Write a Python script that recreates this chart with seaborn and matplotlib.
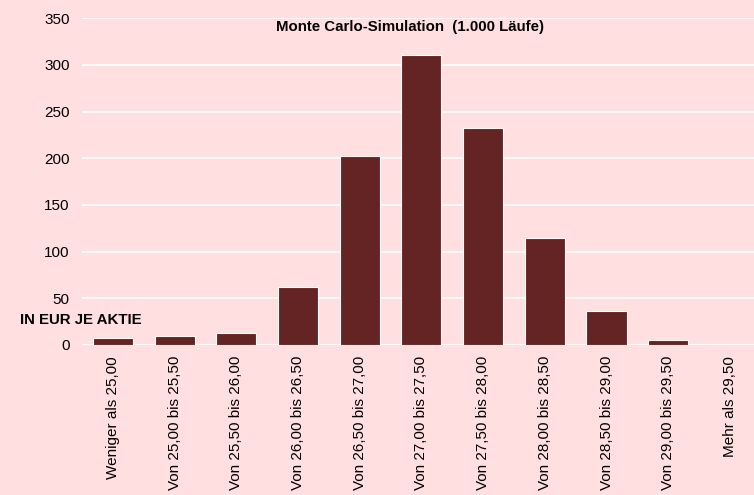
import matplotlib
matplotlib.use("Agg")
import matplotlib.pyplot as plt
import seaborn as sns
import pandas as pd

# Monte Carlo simulation, 1.000 runs, share price bins
categories = ['Weniger als 25,00', 'Von 25,00 bis 25,50', 'Von 25,50 bis 26,00',
              'Von 26,00 bis 26,50', 'Von 26,50 bis 27,00', 'Von 27,00 bis 27,50',
              'Von 27,50 bis 28,00', 'Von 28,00 bis 28,50', 'Von 28,50 bis 29,00',
              'Von 29,00 bis 29,50', 'Mehr als 29,50']
counts = [7, 10, 13, 62, 203, 311, 233, 115, 36, 5, 0]
y_ticks = [0, 50, 100, 150, 200, 250, 300, 350]

BG = '#FFDFDF'
BAR = '#632423'

sns.set_theme(style='white')
plt.rcParams['font.family'] = ['Liberation Sans', 'DejaVu Sans']

df = pd.DataFrame({'bin': categories, 'count': counts})

fig = plt.figure(figsize=(7.54, 4.95), dpi=100, facecolor=BG)
ax = fig.add_axes([82 / 754, 150 / 495, 672 / 754, 326.7 / 495])
ax.set_facecolor(BG)

sns.barplot(data=df, x='bin', y='count', color=BAR, width=0.65,
            edgecolor='white', linewidth=0.8, saturation=1, ax=ax, zorder=3)

ax.set_ylim(0, 350)
ax.set_xlim(-0.5, 10.39)
ax.set_yticks(y_ticks)
ax.yaxis.grid(True, color='white', linewidth=1.2, zorder=0)
ax.set_axisbelow(True)
for s in ax.spines.values():
    s.set_visible(False)
ax.axhline(0, color='white', linewidth=1.5, zorder=2)

ax.set_xlabel('')
ax.set_ylabel('')
ax.tick_params(axis='x', rotation=90, labelsize=11, pad=8, length=0, colors='black')
ax.tick_params(axis='y', labelsize=11, pad=9, length=0, colors='black')
for lab in ax.get_xticklabels():
    lab.set_verticalalignment('top')

fig.text(410 / 754, 1 - 27 / 495, 'Monte Carlo-Simulation  (1.000 Läufe)',
         ha='center', va='center', fontsize=10.8, fontweight='bold', color='black')
fig.text(20 / 754, 1 - 320 / 495, 'IN EUR JE AKTIE',
         ha='left', va='center', fontsize=10.8, fontweight='bold', color='black')

fig.savefig('out.png', dpi=100, facecolor=BG)
